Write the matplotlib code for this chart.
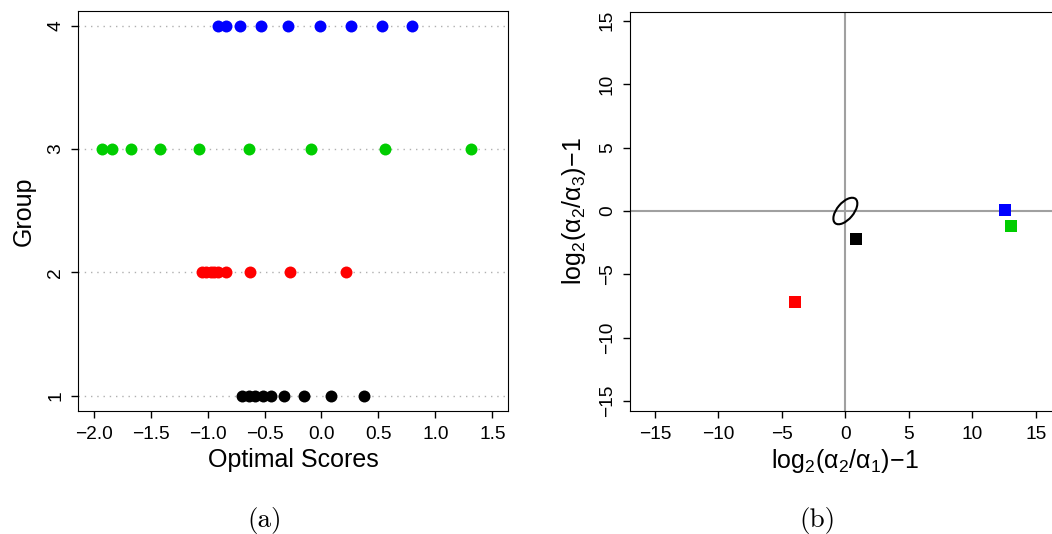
import matplotlib
matplotlib.use('Agg')
import matplotlib.pyplot as plt
from matplotlib.patches import Ellipse

plt.rcParams['font.family'] = ['Liberation Sans', 'DejaVu Sans']
plt.rcParams['mathtext.fontset'] = 'custom'
plt.rcParams['mathtext.rm'] = 'Liberation Sans'
plt.rcParams['mathtext.it'] = 'Liberation Sans:italic'

# painel (a): escores ótimos por grupo
grupos = [1, 2, 3, 4]
cores = ['black', '#FF0000', '#00CD00', '#0000FF']
escores_g1 = [-0.70, -0.64, -0.58, -0.51, -0.44, -0.33, -0.155, 0.083, 0.376]
escores_g2 = [-1.05, -1.01, -0.97, -0.94, -0.91, -0.84, -0.63, -0.277, 0.212]
escores_g3 = [-1.93, -1.842, -1.673, -1.418, -1.073, -0.637, -0.092, 0.558, 1.313]
escores_g4 = [-0.906, -0.838, -0.716, -0.534, -0.291, -0.013, 0.259, 0.529, 0.797]
escores = [escores_g1, escores_g2, escores_g3, escores_g4]
xticks_a = [-2.0, -1.5, -1.0, -0.5, 0.0, 0.5, 1.0, 1.5]

# painel (b): log-razões
lr_x = [0.81, -4.0, 13.03, 12.55]
lr_y = [-2.2, -7.17, -1.18, 0.08]
elipse_centro = (0.0, 0.0)
elipse_eixos = (2.5, 1.3)
elipse_angulo = 50
ticks_b = [-15, -10, -5, 0, 5, 10, 15]

fig = plt.figure(figsize=(10.52, 5.34), dpi=100)

ax1 = fig.add_axes([0.0744, 0.2309, 0.4088, 0.7479])
for g in grupos:
    ax1.axhline(g, color='#b0b0b0', lw=1, linestyle=(0, (1, 3.5)), zorder=1)
    ax1.plot(escores[g - 1], [g] * len(escores[g - 1]), 'o', color=cores[g - 1],
             ms=8.6, mec='none', zorder=3)
ax1.set_xlim(-2.135, 1.64)
ax1.set_ylim(0.878, 4.117)
ax1.set_xticks(xticks_a)
ax1.set_xticklabels(['{:.1f}'.format(v).replace('-', '\u2212') for v in xticks_a])
ax1.set_yticks(grupos)
ax1.set_yticklabels([str(g) for g in grupos], rotation=90, va='center')
ax1.tick_params(length=5.2, width=1, labelsize=13.8, pad=5.5)
ax1.tick_params(axis='y', pad=5)
ax1.set_xlabel('Optimal Scores', fontsize=18, labelpad=4)
ax1.set_ylabel('Group', fontsize=18, labelpad=8)

ax2 = fig.add_axes([0.5989, 0.2309, 0.4097, 0.7472])
ax2.axhline(0, color='#a0a0a0', lw=1.5, zorder=1)
ax2.axvline(0, color='#a0a0a0', lw=1.5, zorder=1)
ax2.add_patch(Ellipse(elipse_centro, elipse_eixos[0], elipse_eixos[1], angle=elipse_angulo,
                      fill=False, ec='black', lw=1.5, zorder=2))
ax2.scatter(lr_x, lr_y, marker='s', s=74, c=cores, edgecolors='none', zorder=3)
ax2.set_xlim(-16.97, 17.0)
ax2.set_ylim(-15.74, 15.71)
ax2.set_xticks(ticks_b)
ax2.set_yticks(ticks_b)
ax2.set_yticklabels([str(v).replace('-', '\u2212') for v in ticks_b], rotation=90, va='center')
ax2.tick_params(length=5.2, width=1, labelsize=13.8, pad=5.5)
ax2.tick_params(axis='y', pad=5)
ax2.set_xlabel(r'$\mathrm{log_2(\alpha_2/\alpha_1)\!-\!1}$', fontsize=18, labelpad=3)
ax2.set_ylabel(r'$\mathrm{log_2(\alpha_2/\alpha_3)\!-\!1}$', fontsize=18, labelpad=8)

fig.text(265 / 1052, 1 - 520 / 534, '(a)', family='cmr10', fontsize=19.5, ha='center', va='center')
fig.text(817 / 1052, 1 - 520 / 534, '(b)', family='cmr10', fontsize=19.5, ha='center', va='center')

fig.savefig('out.png', dpi=100)
